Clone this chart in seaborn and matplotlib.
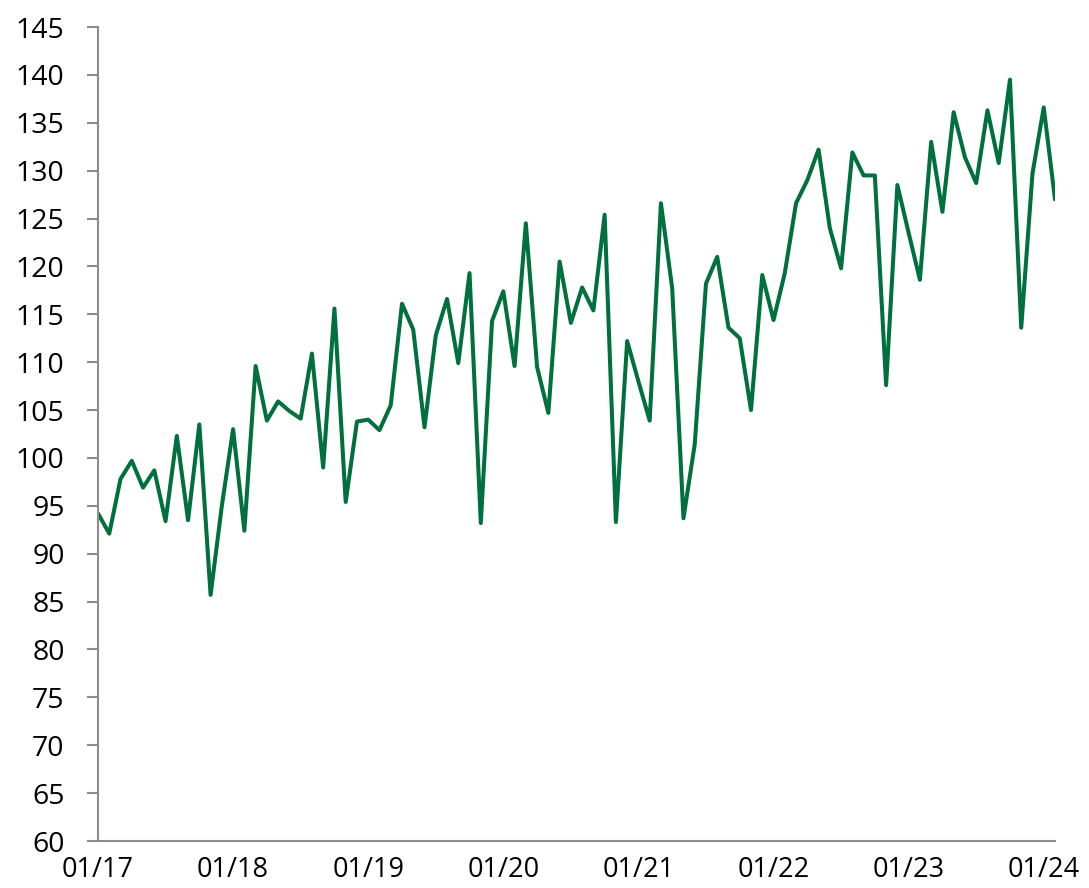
import matplotlib
matplotlib.use("Agg")
import matplotlib.pyplot as plt
import seaborn as sns
import pandas as pd
import numpy as np

values_2017 = [94.2, 92.1, 97.8, 99.7, 96.9, 98.7, 93.4, 102.3, 93.5, 103.5, 85.7, 95.0]
values_2018 = [103.0, 92.4, 109.6, 103.9, 105.9, 104.9, 104.1, 110.9, 99.0, 115.6, 95.4, 103.8]
values_2019 = [104.0, 102.9, 105.5, 116.1, 113.4, 103.2, 112.8, 116.6, 109.9, 119.3, 93.2, 114.3]
values_2020 = [117.4, 109.6, 124.5, 109.5, 104.7, 120.5, 114.1, 117.8, 115.4, 125.4, 93.3, 112.2]
values_2021 = [108.0, 103.9, 126.6, 117.7, 93.7, 101.4, 118.2, 121.0, 113.6, 112.5, 105.0, 119.1]
values_2022 = [114.4, 119.3, 126.6, 129.0, 132.2, 124.0, 119.8, 131.9, 129.5, 129.5, 107.6, 128.5]
values_2023 = [123.5, 118.6, 133.0, 125.7, 136.1, 131.4, 128.7, 136.3, 130.8, 139.5, 113.6, 129.7]
values_2024 = [136.6, 127.0]

tick_labels = ["01/17", "01/18", "01/19", "01/20", "01/21", "01/22", "01/23", "01/24"]
y_ticks = list(range(60, 146, 5))

values = (values_2017 + values_2018 + values_2019 + values_2020 +
          values_2021 + values_2022 + values_2023 + values_2024)
df = pd.DataFrame({"month": np.arange(len(values)), "value": values})

sns.set_theme(style="white")
plt.rcParams["font.family"] = ["Open Sans", "DejaVu Sans"]

fig = plt.figure(figsize=(10.89, 8.88), dpi=100)
ax = fig.add_axes([98/1089, 47/888, (1055-98)/1089, (841-27)/888])

sns.lineplot(data=df, x="month", y="value", ax=ax, color="#00703C", linewidth=2.9)

ax.set_xlim(0, len(values) - 1)
ax.set_ylim(60, 145)
ax.set_yticks(y_ticks)
ax.set_yticklabels([str(v) for v in y_ticks], fontsize=20.5, color="#000000")
ax.set_xticks([12 * i for i in range(len(tick_labels))])
ax.set_xticklabels(tick_labels, fontsize=19.5, color="#000000")
ax.set_xlabel("")
ax.set_ylabel("")

for s in ["top", "right"]:
    ax.spines[s].set_visible(False)
for s in ["left", "bottom"]:
    ax.spines[s].set_color("#8c8c8c")
    ax.spines[s].set_linewidth(1.5)

ax.tick_params(axis="y", which="both", left=True, length=8, width=1.5, color="#8c8c8c", pad=16)
ax.tick_params(axis="x", which="both", bottom=False, pad=5)
ax.grid(False)

fig.savefig("out.png", dpi=100)
